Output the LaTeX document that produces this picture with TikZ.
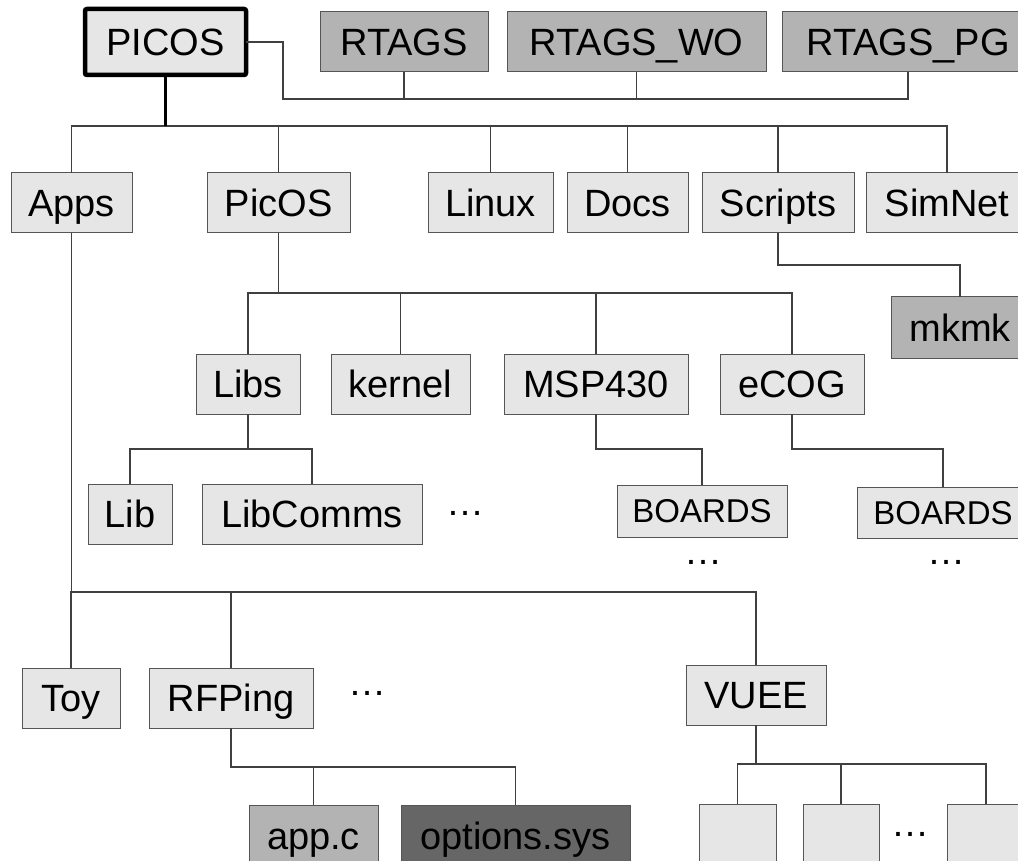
\documentclass[tikz,border=0pt]{standalone}
\usepackage{fontspec}
\setmainfont{Liberation Sans}
\definecolor{boxfill}{HTML}{E6E6E6}
\definecolor{midfill}{HTML}{B3B3B3}
\definecolor{darkfill}{HTML}{666666}
\definecolor{edgec}{HTML}{555555}
\definecolor{wirec}{HTML}{404040}
\begin{document}
\begin{tikzpicture}[x=1pt,y=-1pt,
  box/.style={draw=edgec, line width=1pt, fill=boxfill, inner sep=0pt, outer sep=0pt,
    minimum height=60pt, text height=27.2pt, text depth=0pt,
    font=\fontsize{38}{40}\selectfont},
  small/.style={box, text height=23.6pt, font=\fontsize{33}{35}\selectfont},
  gray/.style={fill=midfill},
  dark/.style={fill=darkfill},
  dots/.style={anchor=base, inner sep=0pt, font=\fontsize{38}{40}\selectfont},
  wire/.style={draw=wirec, line width=1.1pt},
  trunk/.style={draw=black, line width=2.2pt}]
\clip (0,0) rectangle (1018,861);
\fill[white] (0,0) rectangle (1018,861);

% top row
\node[box, draw=black, line width=4.5pt, rounded corners=2pt, minimum width=161pt, minimum height=66pt] (PICOS) at (165.5,42) {PICOS};
\node[box, gray, minimum width=168pt] (RTAGS) at (404,42) {RTAGS};
\node[box, gray, minimum width=259pt] (RTAGSWO) at (636.5,42) {RTAGS\_WO};
\node[box, gray, minimum width=252pt] (RTAGSPG) at (908,42) {RTAGS\_PG};

% second row
\node[box, minimum width=121pt] (Apps) at (71.5,203) {Apps};
\node[box, minimum width=143pt] (PicOS) at (278.5,203) {PicOS};
\node[box, minimum width=125pt] (Linux) at (490.5,203) {Linux};
\node[box, minimum width=121pt] (Docs) at (627.5,203) {Docs};
\node[box, minimum width=152pt] (Scripts) at (778,203) {Scripts};
\node[box, minimum width=162pt] (SimNet) at (947,203) {SimNet};

\node[box, gray, minimum width=138pt, minimum height=61pt] (mkmk) at (960,327.5) {mkmk};

% third row
\node[box, minimum width=104pt] (Libs) at (248,384) {Libs};
\node[box, minimum width=139pt] (kernel) at (400.5,384) {kernel};
\node[box, minimum width=184pt] (MSP) at (596,384) {MSP430};
\node[box, minimum width=144pt] (eCOG) at (792,384) {eCOG};

% fourth row
\node[box, minimum width=84pt] (Lib) at (130,514) {Lib};
\node[box, minimum width=220pt] (LibComms) at (312,514) {LibComms};
\node[dots] (d1) at (465,515) {\ldots};
\node[small, minimum width=170pt, minimum height=52pt] (B1) at (702,511) {BOARDS};
\node[small, minimum width=172pt, minimum height=51pt] (B2) at (943,512.5) {BOARDS};
\node[dots] (d2) at (703,564) {\ldots};
\node[dots] (d3) at (946,564) {\ldots};

% apps row
\node[box, minimum width=98pt] (Toy) at (71,698) {Toy};
\node[box, minimum width=164pt] (RFPing) at (231,698) {RFPing};
\node[dots] (d4) at (367,695) {\ldots};
\node[box, minimum width=140pt] (VUEE) at (756,695) {VUEE};

% bottom row
\node[box, gray, minimum width=129pt, minimum height=62pt] (appc) at (313.5,836) {app.c};
\node[box, dark, minimum width=229pt, minimum height=62pt] (opts) at (515.5,836) {options.sys};
\node[box, minimum width=77pt, minimum height=62pt] (v1) at (737.5,835) {};
\node[box, minimum width=76pt, minimum height=62pt] (v2) at (841,835) {};
\node[box, minimum width=77pt, minimum height=62pt] (v3) at (986,835) {};
\node[dots] (d5) at (910,836) {\ldots};

% bus levels
\coordinate (rtc) at (283,99);
\coordinate (bus1) at (0,126);
\coordinate (busS) at (0,265);
\coordinate (busP) at (0,293);
\coordinate (busL) at (0,449);
\coordinate (busA) at (0,592);
\coordinate (busR) at (0,767);
\coordinate (busV) at (0,764);

% RTAGS connectors
\draw[wire] (PICOS.east) -| (rtc) -| (RTAGS.south);
\draw[wire] (rtc) -| (RTAGSWO.south);
\draw[wire] (rtc) -| (RTAGSPG.south);

% PICOS tree
\foreach \c in {Apps,PicOS,Linux,Docs,Scripts,SimNet}
  \draw[wire] (PICOS.south |- bus1) -| (\c.north);
\draw[trunk] (PICOS.south) -- (PICOS.south |- bus1);

% Scripts -> mkmk
\draw[wire] (Scripts.south) -- (Scripts.south |- busS) -| (mkmk.north);

% PicOS subtree
\foreach \c in {Libs,kernel,MSP,eCOG}
  \draw[wire] (PicOS.south) -- (PicOS.south |- busP) -| (\c.north);

% Libs subtree
\foreach \c in {Lib,LibComms}
  \draw[wire] (Libs.south) -- (Libs.south |- busL) -| (\c.north);

\draw[wire] (MSP.south) -- (MSP.south |- busL) -| (B1.north);
\draw[wire] (eCOG.south) -- (eCOG.south |- busL) -| (B2.north);

% Apps subtree
\foreach \c in {Toy,RFPing,VUEE}
  \draw[wire] (Apps.south) -- (Apps.south |- busA) -| (\c.north);

% RFPing subtree
\foreach \c in {appc,opts}
  \draw[wire] (RFPing.south) -- (RFPing.south |- busR) -| (\c.north);

% VUEE subtree
\foreach \c in {v1,v2,v3}
  \draw[wire] (VUEE.south) -- (VUEE.south |- busV) -| (\c.north);
\end{tikzpicture}
\end{document}
